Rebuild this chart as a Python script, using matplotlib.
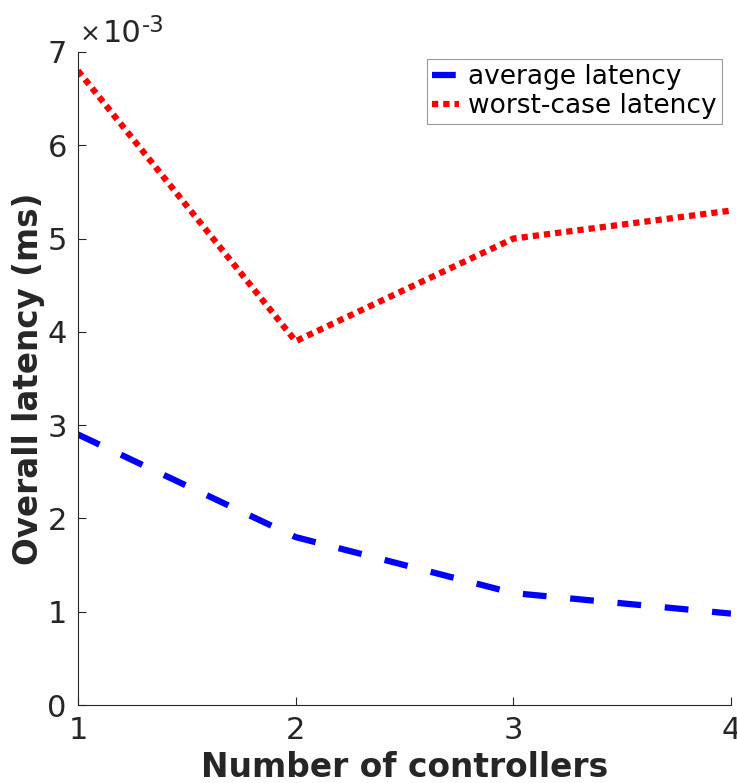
import matplotlib
matplotlib.use("Agg")
import matplotlib.pyplot as plt

controllers = [1, 2, 3, 4]
avg_latency = [2.9e-3, 1.8e-3, 1.2e-3, 0.98e-3]
worst_latency = [6.8e-3, 3.9e-3, 5.0e-3, 5.3e-3]
yticks = [0, 1, 2, 3, 4, 5, 6, 7]

GREY = "#262626"
plt.rcParams["font.family"] = "DejaVu Sans"

fig = plt.figure(figsize=(7.37, 7.83), dpi=100)
ax = fig.add_axes([0.1058, 0.0996, 0.886, 0.834])

# plotted in units of 1e-3 ms, multiplier drawn separately (matlab style)
ax.plot(controllers, [v * 1e3 for v in avg_latency], color="blue", lw=4.5,
        dashes=(3.8, 3.8), dash_capstyle="butt", label="average latency")
ax.plot(controllers, [v * 1e3 for v in worst_latency], color="red", lw=4.5,
        dashes=(1.0, 0.8), dash_capstyle="butt", label="worst-case latency")

ax.set_xlim(1, 4); ax.set_ylim(0, 7)
ax.set_xticks(controllers); ax.set_yticks(yticks)
for s in ["top", "right"]:
    ax.spines[s].set_visible(False)
for s in ["left", "bottom"]:
    ax.spines[s].set_color(GREY); ax.spines[s].set_linewidth(0.8)
ax.tick_params(direction="in", length=6, width=0.8, colors=GREY, labelsize=22, pad=8)

ax.set_xlabel("Number of controllers", fontsize=23.7, fontweight="bold", color=GREY, labelpad=4)
ax.set_ylabel("Overall latency (ms)", fontsize=23.5, fontweight="bold", color=GREY)
ax.yaxis.set_label_coords(-0.05, 0.5)

t = ax.text(0.003, 1.008, "\u00d7", transform=ax.transAxes,
            fontsize=18, color=GREY, ha="left", va="bottom")
t2 = ax.annotate("10", xy=(1, 0), xycoords=t, xytext=(1.5, -1), textcoords="offset points",
                 fontsize=22, color=GREY, ha="left", va="bottom")
ax.annotate("-3", xy=(1, 1), xycoords=t2, xytext=(0, 4), textcoords="offset points",
            fontsize=16.5, color=GREY, ha="left", va="top")

leg = ax.legend(loc="upper right", bbox_to_anchor=(0.986, 0.99), fontsize=19,
                handlelength=1.0, handletextpad=0.35, borderpad=0.2, labelspacing=0.12,
                borderaxespad=0, fancybox=False, framealpha=1, edgecolor="#999999")
leg.get_frame().set_linewidth(0.8)

fig.savefig("out.png", dpi=100)
